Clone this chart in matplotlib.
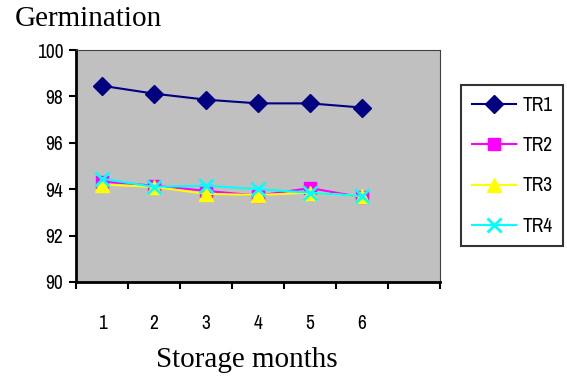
import matplotlib.pyplot as plt
from matplotlib import font_manager
import numpy as np

# data
months = [1, 2, 3, 4, 5, 6]
tr1 = [98.46, 98.12, 97.86, 97.70, 97.70, 97.52]
tr2 = [94.33, 94.15, 93.93, 93.72, 94.05, 93.65]
tr3 = [94.20, 94.10, 93.80, 93.75, 93.85, 93.70]
tr4 = [94.45, 94.10, 94.15, 94.00, 93.85, 93.70]
series_names = ['TR1', 'TR2', 'TR3', 'TR4']

# the original uses a narrow sans font; take a condensed one if there is any
narrow = ['Liberation Sans', 'DejaVu Sans']
stretch = 'normal'
for f in font_manager.fontManager.ttflist:
    if 'Narrow' in f.name:
        narrow = [f.name, 'DejaVu Sans']
        break
    if f.stretch == 'condensed' and f.style == 'normal' and f.weight in (400, 'normal'):
        narrow = [f.name, 'DejaVu Sans']
        stretch = 'condensed'
serif = ['Liberation Serif', 'DejaVu Serif']

fig = plt.figure(figsize=(5.67, 3.79), dpi=100)
ax = fig.add_axes([0.134, 0.256, 0.642, 0.612])
ax.set_facecolor('#C0C0C0')

ax.plot(months, tr1, color='#000080', marker='D', markersize=9, linewidth=1.5, label=series_names[0])
ax.plot(months, tr2, color='#FF00FF', marker='s', markersize=9, linewidth=1.5, label=series_names[1])
ax.plot(months, tr3, color='#FFFF00', marker='^', markersize=10, linewidth=1.5, label=series_names[2])
ax.plot(months, tr4, color='#00FFFF', marker='x', markersize=10, markeredgewidth=2, linewidth=1.5, label=series_names[3])

ax.set_xlim(0.5, 7.5)
ax.set_ylim(90, 100)

# category axis: ticks between categories, labels at the centres
ax.set_xticks(np.arange(0.5, 8.0, 1.0))
ax.set_xticklabels([])
ax.set_xticks(months, minor=True)
ax.set_xticklabels([str(m) for m in months], minor=True, fontfamily=narrow, fontstretch=stretch, fontsize=14)
ax.tick_params(axis='x', which='major', direction='out', length=5, width=1.5)
ax.tick_params(axis='x', which='minor', length=0, pad=23)

ax.set_yticks(np.arange(90, 101, 2))
ax.set_yticklabels([str(v) for v in range(90, 101, 2)], fontfamily=narrow, fontstretch=stretch, fontsize=14)
ax.tick_params(axis='y', direction='out', length=5, width=1.5, pad=4)

for side in ['left', 'bottom']:
    ax.spines[side].set_linewidth(2)
    ax.spines[side].set_color('black')
for side in ['top', 'right']:
    ax.spines[side].set_linewidth(0.8)
    ax.spines[side].set_color('#404040')

fig.text(0.026, 0.985, 'Germination', fontfamily=serif, fontsize=21, ha='left', va='top')
fig.text(0.436, 0.05, 'Storage months', fontfamily=serif, fontsize=21, ha='center', va='center')

leg = fig.legend(loc='upper left', bbox_to_anchor=(0.813, 0.776),
                 prop={'family': narrow, 'stretch': stretch, 'size': 14},
                 frameon=True, fancybox=False, edgecolor='black', handlelength=2.3,
                 handletextpad=0.3, labelspacing=1.1, borderpad=0.55, borderaxespad=0)
leg.get_frame().set_linewidth(1.5)

fig.savefig('out.png', dpi=100)
